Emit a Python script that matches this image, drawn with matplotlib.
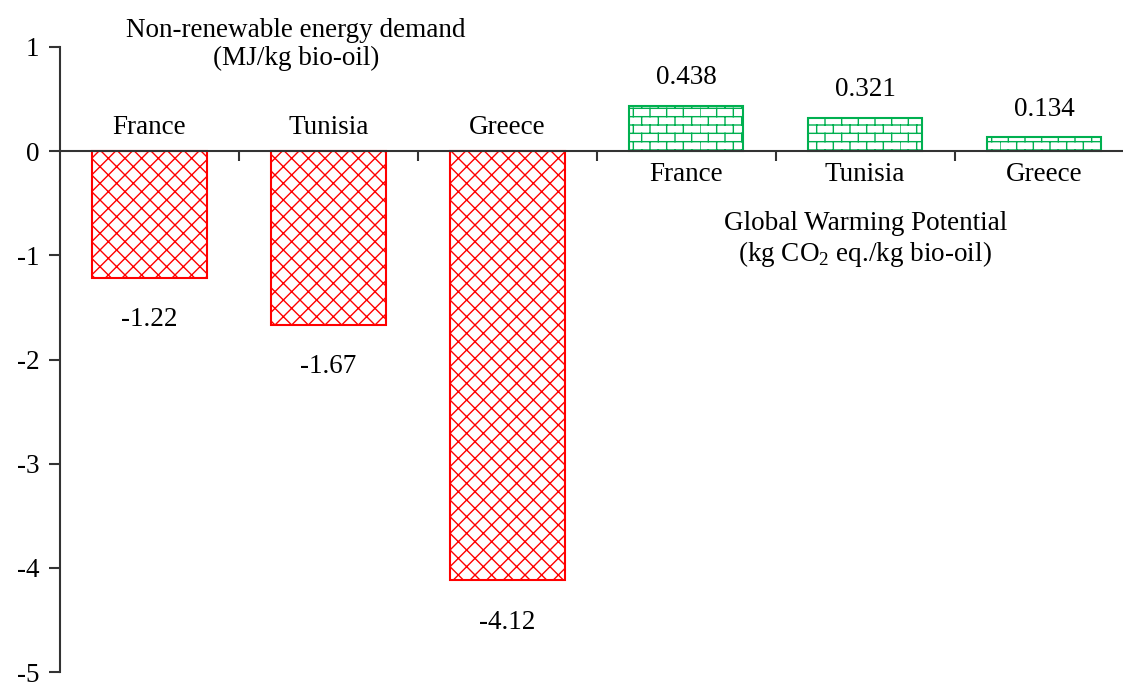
import numpy as np
import matplotlib
matplotlib.use("Agg")
import matplotlib.pyplot as plt
from matplotlib import hatch as mhatch
from matplotlib.path import Path

# data
countries = ["France", "Tunisia", "Greece"]
nred = [-1.22, -1.67, -4.12]     # Non-renewable energy demand (MJ/kg bio-oil)
gwp = [0.438, 0.321, 0.134]       # Global Warming Potential (kg CO2 eq./kg bio-oil)
red_labels = ["-1.22", "-1.67", "-4.12"]
green_labels = ["0.438", "0.321", "0.134"]
yticks = [1, 0, -1, -2, -3, -4, -5]


# brick hatch, drawn for 'O' (replaces the large circle pattern)
class BrickHatch(mhatch.HatchPatternBase):
    def __init__(self, hatch, density):
        n = hatch.count('O')
        self.rows = int(2 * n * density)
        self.cols = int(n * density)
        self.num_vertices = (self.rows * 2 + self.rows * self.cols * 2) if n else 0

    def set_vertices_and_codes(self, vertices, codes):
        h = 1.0 / self.rows
        w = 1.0 / self.cols
        i = 0
        for r in range(self.rows):
            y0 = r * h
            vertices[i] = (0.0, y0); codes[i] = Path.MOVETO
            vertices[i + 1] = (1.0, y0); codes[i + 1] = Path.LINETO
            i += 2
            off = 0.0 if r % 2 == 0 else w / 2
            for c in range(self.cols):
                x = c * w + off
                vertices[i] = (x, y0); codes[i] = Path.MOVETO
                vertices[i + 1] = (x, y0 + h); codes[i + 1] = Path.LINETO
                i += 2


mhatch._hatch_types = [t for t in mhatch._hatch_types
                       if t is not mhatch.LargeCircles] + [BrickHatch]

plt.rcParams['font.family'] = ['Liberation Serif', 'DejaVu Serif']
plt.rcParams['mathtext.fontset'] = 'custom'
plt.rcParams['mathtext.rm'] = 'Liberation Serif'
plt.rcParams['font.size'] = 19.5
plt.rcParams['hatch.linewidth'] = 1.0

red = '#FF0000'
green = '#00B050'

fig = plt.figure(figsize=(11.23, 6.84), dpi=100)
ax = fig.add_axes([0.0534, 0.0175, 0.956, 0.9138])

x_red = np.arange(3)
x_green = np.arange(3, 6)
w = 0.64

ax.bar(x_red, nred, width=w, facecolor='white', edgecolor=red,
       linewidth=1.5, hatch='xx')
ax.bar(x_green, gwp, width=w, facecolor='white', edgecolor=green,
       linewidth=1.5, hatch='O')

for xi, v, lab, c in zip(x_red, nred, red_labels, countries):
    ax.text(xi, v - 0.4, lab, ha='center', va='center')
    ax.text(xi, 0.23, c, ha='center', va='center')

for xi, v, lab, c in zip(x_green, gwp, green_labels, countries):
    ax.text(xi, v + 0.27, lab, ha='center', va='center')
    ax.text(xi, -0.22, c, ha='center', va='center')

ax.text(0.82, 1.02, "Non-renewable energy demand\n(MJ/kg bio-oil)",
        ha='center', va='center', linespacing=1.15)
ax.text(4.0, -0.85, "Global Warming Potential\n" r"(kg CO$_\mathrm{2}$ eq./kg bio-oil)",
        ha='center', va='center', linespacing=1.15)

ax.set_xlim(-0.5, 5.5)
ax.set_ylim(-5, 1)
ax.set_yticks(yticks)
ax.set_yticklabels([str(t) for t in yticks])
ax.set_xticks(np.arange(0.5, 5, 1.0))
ax.set_xticklabels([])

ax.spines['top'].set_visible(False)
ax.spines['right'].set_visible(False)
ax.spines['bottom'].set_position(('data', 0))
for s in ('left', 'bottom'):
    ax.spines[s].set_linewidth(1.5)
    ax.spines[s].set_color('#333333')
ax.tick_params(axis='y', direction='out', length=8, width=1.5, color='#333333', pad=7)
ax.tick_params(axis='x', direction='out', length=7, width=1.5, color='#333333')

fig.savefig('out.png', dpi=100)
